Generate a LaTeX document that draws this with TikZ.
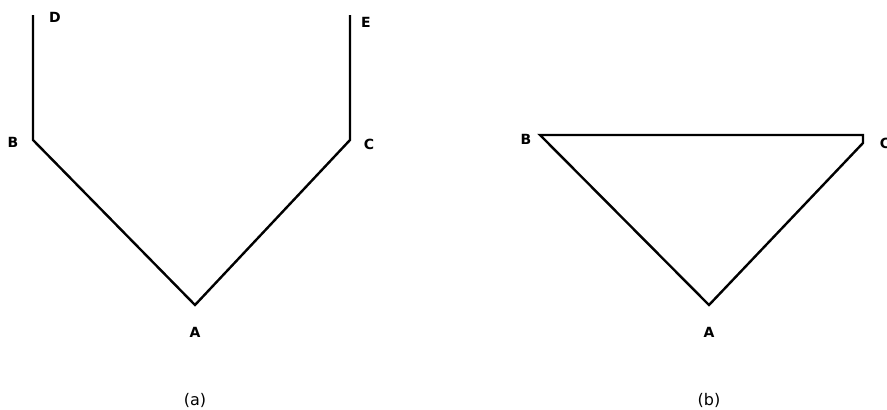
\documentclass[tikz,border=0pt]{standalone}
\usepackage{fontspec}
\setmainfont{DejaVu Sans}
\begin{document}
\begin{tikzpicture}[x=1pt,y=-1pt,
  seg/.style={line width=2.4pt,line join=miter},
  lbl/.style={font=\fontsize{14}{14}\selectfont\bfseries,inner sep=0pt},
  captext/.style={font=\fontsize{16}{16}\selectfont,inner sep=0pt}]
\useasboundingbox (0,0) rectangle (887,410);
% (a)
\coordinate (aD) at (33,15);
\coordinate (aB) at (33,140);
\coordinate (aA) at (195,305);
\coordinate (aC) at (350,140);
\coordinate (aE) at (350,15);
\draw[seg] (aD) -- (aB) -- (aA) -- (aC) -- (aE);
\node[lbl] (lD) at (55,17) {D};
\node[lbl] (lB) at (13,142) {B};
\node[lbl] (lA) at (195,332) {A};
\node[lbl] (lC) at (369,144) {C};
\node[lbl] (lE) at (366,22) {E};
\node[captext] (capa) at (195,400) {(a)};
% (b)
\coordinate (bB) at (540,135);
\coordinate (bC) at (863,135);
\coordinate (bC2) at (863,143);
\coordinate (bA) at (709,305);
\draw[seg] (bA) -- (bB) -- (bC) -- (bC2) -- cycle;
\node[lbl] (mB) at (526,139) {B};
\node[lbl] (mC) at (885,143) {C};
\node[lbl] (mA) at (709,332) {A};
\node[captext] (capb) at (709,400) {(b)};
\end{tikzpicture}
\end{document}
